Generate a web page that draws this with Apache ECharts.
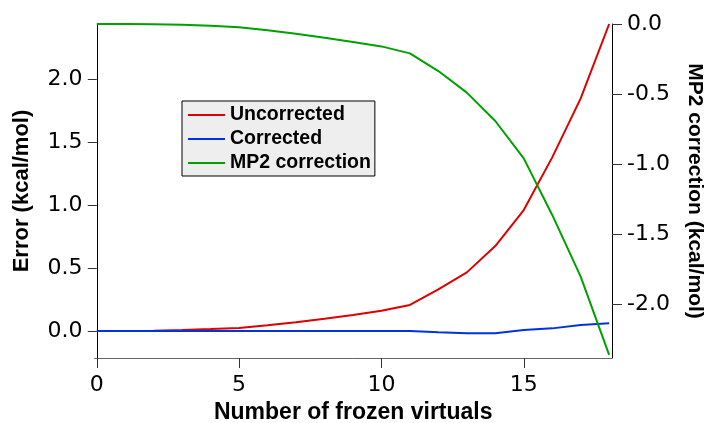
<!DOCTYPE html>
<html>
<head>
<meta charset="utf-8">
<script src="https://cdn.jsdelivr.net/npm/echarts@6/dist/echarts.min.js"></script>
<style>
  html, body { margin: 0; padding: 0; background: #fff; }
  #chart { width: 705px; height: 423px; }
</style>
</head>
<body>
<div id="chart"></div>
<script>
// number of frozen virtual orbitals
const frozen = [0, 1, 2, 3, 4, 5, 6, 7, 8, 9, 10, 11, 12, 13, 14, 15, 16, 17, 18]
// errors, kcal/mol (left axis)
const uncorrected = [0, 0.001, 0.003, 0.008, 0.015, 0.024, 0.045, 0.07, 0.098, 0.128, 0.161, 0.207, 0.331, 0.466, 0.675, 0.961, 1.38, 1.849, 2.44]
const corrected = [0, 0, 0, 0, 0, 0, 0, 0, 0, 0, 0, 0, -0.01, -0.018, -0.018, 0.008, 0.021, 0.048, 0.061]
// MP2 correction, kcal/mol (right axis)
const mp2Correction = [0, 0, -0.002, -0.006, -0.013, -0.024, -0.045, -0.07, -0.098, -0.128, -0.16, -0.21, -0.336, -0.49, -0.693, -0.96, -1.364, -1.805, -2.364]

const xTicks = [0, 5, 10, 15]
const leftTicks = [0, 0.5, 1, 1.5, 2]
const rightTicks = [0, -0.5, -1, -1.5, -2]

const tickFont = 'DejaVu Sans'
const titleFont = 'Liberation Sans'

const pairs = ys => frozen.map((x, i) => [x, ys[i]])

const chart = echarts.init(document.getElementById('chart'))

const option = {
  animation: false,
  grid: { left: 94.5, right: 93, top: 24, bottom: 65, outerBoundsMode: 'none', containLabel: false },
  legend: {
    orient: 'vertical',
    left: 182,
    top: 101,
    backgroundColor: '#eeeeee',
    borderColor: '#000',
    borderWidth: 1,
    padding: [4, 4, 3, 6],
    itemGap: 4,
    itemWidth: 37,
    itemHeight: 2,
    icon: 'rect',
    textStyle: { fontFamily: titleFont, fontWeight: 'bold', fontSize: 19.5, color: '#000', lineHeight: 19 },
    data: ['Uncorrected', 'Corrected', 'MP2 correction']
  },
  xAxis: {
    type: 'value',
    min: -0.08,
    max: 18.1,
    name: 'Number of frozen virtuals',
    nameLocation: 'middle',
    nameGap: 42,
    nameTextStyle: { fontFamily: titleFont, fontWeight: 'bold', fontSize: 23, color: '#000' },
    axisLine: { onZero: false, lineStyle: { color: '#666', width: 1 } },
    axisTick: { customValues: xTicks, length: 10, lineStyle: { color: '#333' } },
    axisLabel: { customValues: xTicks, margin: 16, fontFamily: tickFont, fontSize: 22, color: '#000' },
    splitLine: { show: false }
  },
  yAxis: [
    {
      type: 'value',
      position: 'left',
      min: -0.2145,
      max: 2.44,
      name: 'Error (kcal/mol)',
      nameLocation: 'middle',
      nameGap: 62,
      nameTextStyle: { fontFamily: titleFont, fontWeight: 'bold', fontSize: 22, color: '#000' },
      axisLine: { show: true, lineStyle: { color: '#000', width: 1 } },
      axisTick: { customValues: leftTicks, length: 9, lineStyle: { color: '#333' } },
      axisLabel: { customValues: leftTicks, margin: 12, fontFamily: tickFont, fontSize: 22, color: '#000',
        formatter: v => v.toFixed(1) },
      splitLine: { show: false }
    },
    {
      type: 'value',
      position: 'right',
      min: -2.386,
      max: 0,
      name: 'MP2 correction (kcal/mol)',
      nameLocation: 'middle',
      nameGap: 72,
      nameRotate: -90,
      nameTextStyle: { fontFamily: titleFont, fontWeight: 'bold', fontSize: 21, color: '#000' },
      axisLine: { show: true, lineStyle: { color: '#000', width: 1 } },
      axisTick: { customValues: rightTicks, length: 10, lineStyle: { color: '#333' } },
      axisLabel: { customValues: rightTicks, margin: 15, fontFamily: tickFont, fontSize: 22, color: '#000',
        formatter: v => v.toFixed(1) },
      splitLine: { show: false }
    }
  ],
  series: [
    {
      name: 'Uncorrected',
      type: 'line',
      yAxisIndex: 0,
      symbol: 'none',
      data: pairs(uncorrected),
      itemStyle: { color: '#dd0000' },
      lineStyle: { color: '#dd0000', width: 2 }
    },
    {
      name: 'Corrected',
      type: 'line',
      yAxisIndex: 0,
      symbol: 'none',
      data: pairs(corrected),
      itemStyle: { color: '#0033dd' },
      lineStyle: { color: '#0033dd', width: 2 }
    },
    {
      name: 'MP2 correction',
      type: 'line',
      yAxisIndex: 1,
      symbol: 'none',
      data: pairs(mp2Correction),
      itemStyle: { color: '#00a000' },
      lineStyle: { color: '#00a000', width: 2 }
    }
  ]
}

chart.setOption(option)
</script>
</body>
</html>
